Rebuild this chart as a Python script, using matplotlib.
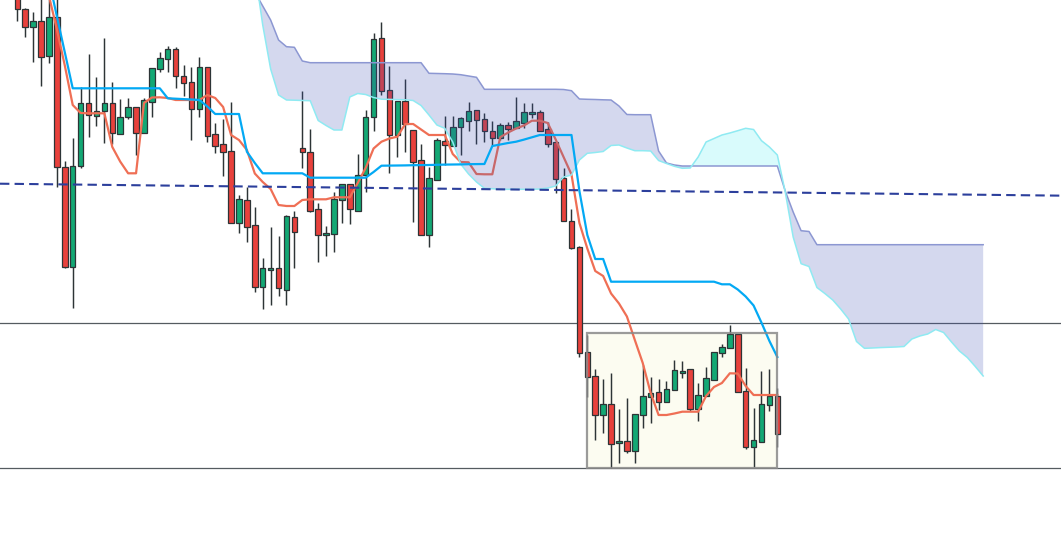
import numpy as np
import matplotlib.pyplot as plt
from matplotlib.patches import Rectangle

# candles (open, high, low, close) - one per bar
opens = [615, 590.7, 572.7, 579.3, 544, 582.7, 433.3, 332.7, 434, 497.3,
         484, 489, 496.7, 466, 482.7, 493.3, 466.7, 498.3, 530.7, 540.7,
         550.7, 524.3, 517.7, 490.7, 532.7, 465.7, 455.7, 449, 377.3, 400,
         375, 312.7, 330, 331.7, 310, 382.7, 451.7, 447.7, 390.7, 364.7,
         365.7, 400, 416, 389.3, 425, 483.3, 561.7, 510, 465, 499,
         470, 440, 365, 420, 459.3, 454.3, 473, 479.3, 490, 480.7,
         469.5, 461.7, 475, 472, 477.5, 485.7, 487.7, 470.7, 458, 421.7,
         379.3, 352.7, 247.7, 224, 185, 196, 156.7, 159, 149.3, 184.7,
         202.7, 208.3, 198.3, 210, 227.3, 230.7, 190.7, 204, 220, 246.7,
         251.7, 265.7, 209, 152.7, 158.3, 195, 204]
highs = [625, 592, 587.7, 610, 610, 610, 438.7, 461.7, 513.3, 546,
         522.7, 561.7, 517.7, 501, 501.7, 493.3, 501.7, 531.7, 548.3, 554,
         552.7, 535, 533.3, 542.7, 532.7, 476.7, 480.7, 497.7, 405, 412.7,
         393.3, 342.3, 372.7, 364, 385, 389.3, 509.3, 471, 397.3, 374,
         408.3, 416, 416, 446, 490, 567.3, 578.3, 534, 499, 521,
         470, 456, 433.3, 462.3, 484, 484, 482.7, 498.3, 490, 487.5,
         479.5, 477.5, 478, 503, 497, 496.7, 490, 478.3, 458, 432.3,
         391, 354, 265, 230.7, 220.7, 226.7, 190.7, 201.7, 185.7, 235,
         222.7, 220.7, 219, 240, 239, 230.7, 216.7, 233.3, 247.7, 256,
         275, 265.7, 231.7, 191.7, 229.3, 230.7, 211.7]
lows = [579.3, 563.3, 538.3, 514, 536.7, 412.7, 331.7, 291.7, 431.7, 462.7,
        474, 457.3, 456, 466, 480.7, 445, 466.7, 483.3, 528.3, 528.3,
        511.7, 504, 460, 482.7, 458.3, 446.7, 424.3, 376.7, 366.7, 358.3,
        308.3, 290.7, 295, 304, 295, 331.7, 432.3, 387.7, 338.3, 344.3,
        347.7, 376.7, 375.7, 389.3, 407.7, 469.3, 505, 427.3, 442.7, 447.7,
        377.7, 365, 352.7, 420, 435, 454.3, 445, 469, 455.7, 458,
        455.5, 460.5, 460, 472, 472, 482.3, 469.3, 453.3, 407.3, 379,
        350.7, 243.3, 203.3, 160, 167.3, 131.7, 137.3, 146.7, 137.3, 171.7,
        177.3, 190, 198.3, 210, 221.7, 189.3, 179.3, 204, 220, 242.7,
        251.7, 207.7, 150.7, 133.3, 158.3, 189.3, 153.3]
closes = [590.7, 572.7, 579.3, 542.7, 582.7, 432.7, 332.7, 434.3, 497.3, 485,
          489.3, 496.7, 466.7, 483.3, 493.3, 466.7, 500, 531.7, 541.7, 550.7,
          524, 516.7, 490.7, 532.7, 464.3, 454.3, 448.3, 376.7, 400.7, 373.3,
          312.7, 331.7, 331.7, 311.7, 384, 367.7, 447.7, 389.3, 365, 366.7,
          401, 416, 390.7, 425, 482.7, 560.7, 509, 465, 499, 475.7,
          438.3, 365, 421.7, 460, 455, 473.5, 481.7, 489, 479.7, 469,
          461.7, 475, 471.3, 479, 487.7, 487.7, 469.3, 456.5, 420.7, 379,
          351.7, 246.7, 223.3, 185, 196, 155.7, 159, 149.3, 185.7, 204,
          206.7, 198.3, 210.7, 230, 229.3, 190.7, 205, 221.7, 247.7, 252.7,
          265.7, 207.7, 152.7, 160, 196, 204, 165.7]

# ichimoku lines
kijun = [620, 620, 620, 620, 620, 583.6, 547.7, 511.7, 511.7, 511.7,
         511.7, 511.7, 511.7, 511.7, 511.7, 511.7, 511.7, 511.7, 511.7, 501.7,
         501.3, 500.9, 500.5, 500, 493.6, 486, 486, 486, 486, 448.3,
         437, 426.7, 426.7, 426.7, 426.7, 426.7, 426.7, 422.3, 422.3, 422.3,
         422.3, 422.3, 422.3, 422.3, 422.3, 428, 434.3, 434.4, 434.5, 434.6,
         434.8, 434.9, 435, 435.2, 435.4, 435.5, 435.6, 435.8, 435.9, 436,
         454, 455.5, 457, 458.3, 460.4, 462.7, 465, 465, 465, 465,
         465, 409, 365, 341, 341, 318.3, 318.3, 318.3, 318.3, 318.3,
         318.3, 318.3, 318.3, 318.3, 318.3, 318.3, 318.3, 318.3, 318.3, 315.7,
         315.7, 310.5, 303.5, 294.5, 277.3, 259, 243]
tenkan = [640, 640, 640, 638, 604, 570.5, 534.5, 495, 487, 486.7,
          486.7, 486.7, 453, 438.4, 426.7, 426.7, 497, 502.5, 502.7, 502,
          500, 500, 500, 500, 505, 502, 493, 465, 460, 450,
          426.5, 418, 411, 395, 394, 394, 400, 400.7, 400.7, 400.7,
          402.7, 402.7, 402.7, 417, 432, 451.5, 458.3, 461.5, 463.3, 476,
          476, 470.5, 465, 465, 465, 446, 438, 437.7, 426, 425.7,
          425.7, 462.8, 467.5, 471.5, 474.5, 479.3, 479.3, 477, 460.5, 443,
          425.5, 377, 351.5, 329, 324, 306.5, 296.5, 283.5, 260, 237,
          207, 185, 185, 186.5, 188.3, 188.3, 188.3, 204, 213, 217,
          226.7, 226.5, 214, 205, 205, 205, 205]

# cloud, bars 30..122 (shifted 26 bars ahead)
cloud_start = 30
span_a = [630, 575, 531, 505, 500, 499.8, 499.5, 499.3, 479.5, 474.5,
          470, 470, 503, 506.5, 505.5, 502.5, 500.8, 500.6, 500.4, 500.2,
          499.5, 494.5, 485, 475, 471.7, 458, 436, 426, 418, 411.7,
          411.3, 410.7, 410.7, 410.7, 410.7, 410.7, 411, 412, 414, 423,
          425, 440, 446.7, 447.5, 448.5, 454.5, 455, 452, 449.3, 449.3,
          449, 439.5, 436.5, 433.7, 431.7, 432, 443, 458, 461.5, 465,
          467, 469.3, 471.7, 470.5, 459.3, 453, 445, 408, 363, 336.3,
          333.5, 312.5, 306.5, 300, 291, 281, 258.5, 251.7, 252, 252.4,
          252.7, 253, 253.5, 261, 264, 266, 270.5, 267.5, 258, 249,
          242.5, 233.5, 224]
span_b = [608, 594, 580, 560, 553.3, 552.7, 539, 537.3, 537.3, 537.3,
          537.3, 537.3, 537.3, 537.3, 537.3, 537.3, 537.3, 537.3, 537.3, 537.3,
          537.3, 537.3, 526.7, 526.5, 526.3, 526, 525.3, 524, 522.7, 510.7,
          510.7, 510.7, 510.7, 510.7, 510.7, 510.7, 510.7, 510.7, 510.7, 510.5,
          509.3, 501, 500.7, 500.5, 500.2, 500, 494, 485.5, 485.3, 485.3,
          485.3, 449, 437, 435, 434, 434, 434, 434, 434, 434,
          434, 434, 434, 434, 434, 434, 434, 409, 388, 369.3,
          368.5, 355.3, 355.3, 355.3, 355.3, 355.3, 355.3, 355.3, 355.3, 355.3,
          355.3, 355.3, 355.3, 355.3, 355.3, 355.3, 355.3, 355.3, 355.3, 355.3,
          355.3, 355.3, 355.3]

# levels
trend_pts = [(0, 416.1), (120, 405.4)]
support_levels = [277.3, 131.7]
range_box = (72, 96, 132.3, 267.3)  # first bar, last bar, low, high

fig = plt.figure(figsize=(10.61, 5.36), dpi=100)
ax = fig.add_axes([0, 0, 1, 1])
ax.set_xlim(-2.185, 131.83)
ax.set_ylim(64, 600)
ax.axis('off')

green = '#13a874'
red = '#e8413c'
edge = '#2d3436'
bw = 0.7

for i in range(len(opens)):
    o, h, l, c = opens[i], highs[i], lows[i], closes[i]
    ax.vlines(i, l, h, color=edge, lw=1.05, zorder=2)
    col = green if c >= o else red
    lo = min(o, c)
    ax.add_patch(Rectangle((i - bw / 2, lo), bw, max(abs(c - o), 0.8),
                           facecolor=col, edgecolor=edge, lw=0.9, zorder=3))

bars = np.arange(len(opens))
ax.plot(bars, tenkan, color='#ef6f55', lw=1.6, zorder=4)

cx = np.arange(cloud_start, cloud_start + len(span_a))
sa = np.array(span_a)
sb = np.array(span_b)
ax.fill_between(cx, sa, sb, where=sb >= sa, interpolate=True,
                color='#3f51b5', alpha=0.22, lw=0, zorder=5)
ax.fill_between(cx, sa, sb, where=sa >= sb, interpolate=True,
                color='#00e6f0', alpha=0.15, lw=0, zorder=5)
ax.plot(cx, sb, color='#8c97d2', lw=1.1, zorder=5.2)
ax.plot(cx, sa, color='#8feaf2', lw=1.1, zorder=5.2)

ax.plot(bars, kijun, color='#03a9f4', lw=1.6, zorder=6)

# range box
x0, x1, b_lo, b_hi = range_box
ax.add_patch(Rectangle((x0, b_lo), x1 - x0, b_hi - b_lo, facecolor='#fcfcf1',
                       edgecolor='none', zorder=1))
ax.add_patch(Rectangle((x0, b_lo), x1 - x0, b_hi - b_lo, facecolor='none',
                       edgecolor='#8a8a8a', alpha=0.85, lw=1.6, zorder=6.5))

for lvl in support_levels:
    ax.axhline(lvl, color='#555b60', lw=0.9, zorder=1.5)

ax.axline(trend_pts[0], trend_pts[1], color='#2c3f9c', lw=1.5,
          dashes=(4.5, 2.5), zorder=7)

fig.savefig('out.png', dpi=100)
